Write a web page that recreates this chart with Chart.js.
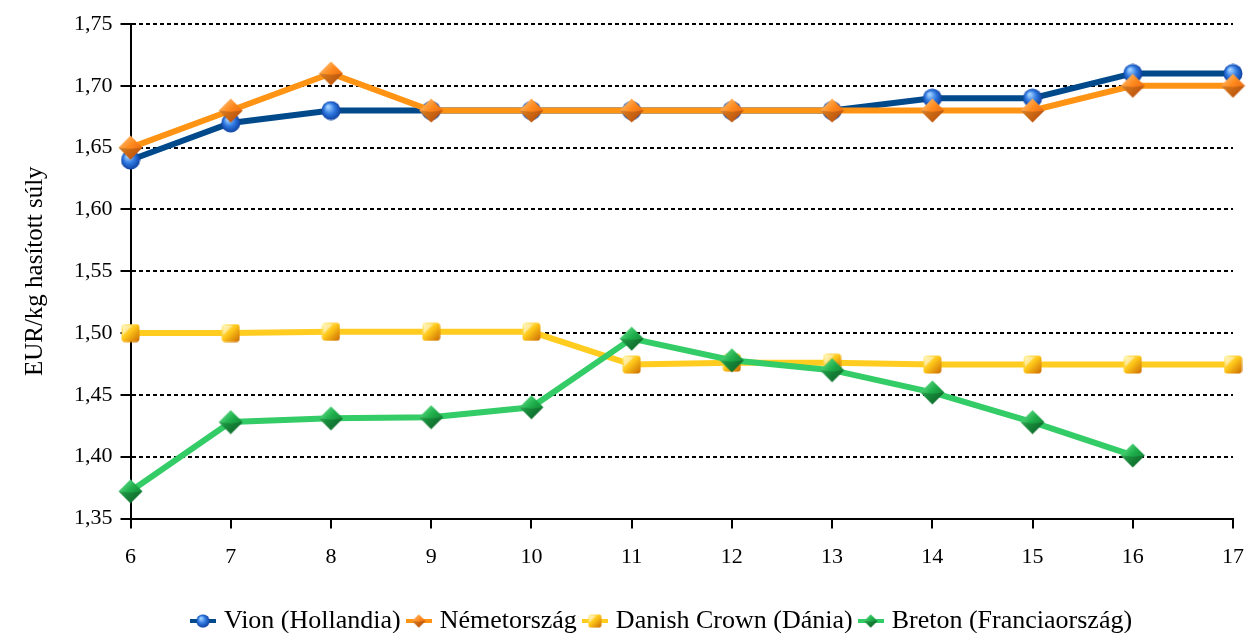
<!DOCTYPE html>
<html>
<head>
<meta charset="utf-8">
<script src="https://cdn.jsdelivr.net/npm/chart.js@4/dist/chart.umd.min.js"></script>
<style>
  html, body { margin: 0; padding: 0; background: #fff; }
  #wrap { width: 1249px; height: 633px; }
</style>
</head>
<body>
<div id="wrap"><canvas id="chart"></canvas></div>
<script>
// Adatok
const weeks = ['6', '7', '8', '9', '10', '11', '12', '13', '14', '15', '16', '17'];
const vion = [1.64, 1.67, 1.68, 1.68, 1.68, 1.68, 1.68, 1.68, 1.69, 1.69, 1.71, 1.71];
const nemetorszag = [1.65, 1.68, 1.71, 1.68, 1.68, 1.68, 1.68, 1.68, 1.68, 1.68, 1.70, 1.70];
const danishCrown = [1.500, 1.500, 1.501, 1.501, 1.501, 1.4745, 1.476, 1.476, 1.4745, 1.4745, 1.4745, 1.4745];
const breton = [1.372, 1.428, 1.431, 1.432, 1.440, 1.4955, 1.478, 1.470, 1.452, 1.428, 1.401, null];
const yTicks = ['1,35', '1,40', '1,45', '1,50', '1,55', '1,60', '1,65', '1,70', '1,75'];

Chart.defaults.font.family = "'Liberation Serif', 'Times New Roman', serif";
Chart.defaults.color = '#000';

// Fényes, "3D" jelölők rajzolása
function makeMarker(shape, size, light, mid, dark) {
    const c = document.createElement('canvas');
    c.width = size; c.height = size;
    const ctx = c.getContext('2d');
    const h = size / 2;
    const g = ctx.createLinearGradient(0, 0, size, size);
    g.addColorStop(0, light);
    g.addColorStop(0.45, mid);
    g.addColorStop(1, dark);
    ctx.fillStyle = g;
    ctx.beginPath();
    if (shape === 'circle') {
        const rg = ctx.createRadialGradient(h * 0.7, h * 0.6, 1, h, h, h);
        rg.addColorStop(0, light);
        rg.addColorStop(0.5, mid);
        rg.addColorStop(1, dark);
        ctx.fillStyle = rg;
        ctx.arc(h, h, h - 0.5, 0, Math.PI * 2);
    } else if (shape === 'diamond') {
        ctx.moveTo(h, 0.5);
        ctx.lineTo(size - 0.5, h);
        ctx.lineTo(h, size - 0.5);
        ctx.lineTo(0.5, h);
        ctx.closePath();
    } else {
        const r = size * 0.18;
        ctx.roundRect(0.5, 0.5, size - 1, size - 1, r);
    }
    ctx.fill();
    if (shape === 'diamond') {
        // sötétebb alsó fél a csiszolt hatásért
        ctx.fillStyle = 'rgba(0,0,0,0.18)';
        ctx.beginPath();
        ctx.moveTo(size - 0.5, h);
        ctx.lineTo(h, size - 0.5);
        ctx.lineTo(0.5, h);
        ctx.lineTo(h, h * 1.1);
        ctx.closePath();
        ctx.fill();
    }
    if (shape === 'square') {
        ctx.fillStyle = 'rgba(255,255,255,0.45)';
        ctx.beginPath();
        ctx.moveTo(2, 2);
        ctx.lineTo(size * 0.6, 2);
        ctx.lineTo(2, size * 0.6);
        ctx.closePath();
        ctx.fill();
    }
    return c;
}

function legendIcon(marker, lineColor) {
    const c = document.createElement('canvas');
    c.width = 26; c.height = 16;
    const ctx = c.getContext('2d');
    ctx.strokeStyle = lineColor;
    ctx.lineWidth = 4;
    ctx.beginPath();
    ctx.moveTo(0, 8);
    ctx.lineTo(26, 8);
    ctx.stroke();
    const s = 14;
    ctx.drawImage(marker, 13 - s / 2, 8 - s / 2, s, s);
    return c;
}

const mVion = makeMarker('circle', 20, '#9fd0ff', '#2f78e0', '#0b3d9c');
const mNemet = makeMarker('diamond', 25, '#ffd090', '#ff8a1e', '#d9540a');
const mDanish = makeMarker('square', 19, '#fffbb0', '#ffc81a', '#c86400');
const mBreton = makeMarker('diamond', 25, '#7cf0a0', '#20b04c', '#0c6a2a');

const colVion = '#00498a';
const colNemet = '#ff9414';
const colDanish = '#ffcc1f';
const colBreton = '#33cc66';

function series(label, data, color, marker) {
    return {
        label: label,
        data: data,
        borderColor: color,
        backgroundColor: color,
        borderWidth: 6,
        pointStyle: marker,
        legendIcon: legendIcon(marker, color),
        pointRadius: 10,
        pointHoverRadius: 10,
        tension: 0,
        spanGaps: false
    };
}

// A sorrend fordított, hogy a rajzolási rend egyezzen (Vion legalul)
const datasets = [
    series('Breton (Franciaország)', breton, colBreton, mBreton),
    series('Danish Crown (Dánia)', danishCrown, colDanish, mDanish),
    series('Németország', nemetorszag, colNemet, mNemet),
    series('Vion (Hollandia)', vion, colVion, mVion)
];

// A jelmagyarázat a rajzterület közepéhez igazodik, nem a vászonhoz
const legendShift = {
    id: 'legendShift',
    afterLayout(chart) {
        if (chart.legend) {
            chart.legend.left += 31;
            chart.legend.right += 31;
        }
    }
};

new Chart(document.getElementById('chart'), {
    type: 'line',
    data: { labels: weeks, datasets: datasets },
    plugins: [legendShift],
    options: {
        responsive: true,
        maintainAspectRatio: false,
        animation: false,
        layout: { padding: { top: 24, right: 0, left: 16, bottom: -11 } },
        plugins: {
            tooltip: { enabled: false },
            legend: {
                position: 'bottom',
                reverse: true,
                labels: {
                    usePointStyle: true,
                    pointStyleWidth: 16,
                    padding: 10,
                    font: { size: 26 },
                    color: '#000',
                    generateLabels: function(chart) {
                        return chart.data.datasets.map((ds, i) => ({
                            text: ds.label,
                            pointStyle: ds.legendIcon,
                            fillStyle: ds.borderColor,
                            strokeStyle: ds.borderColor,
                            lineWidth: 0,
                            hidden: false,
                            datasetIndex: i
                        }));
                    }
                }
            }
        },
        scales: {
            x: {
                type: 'category',
                offset: false,
                grid: {
                    display: true,
                    drawOnChartArea: false,
                    drawTicks: true,
                    tickLength: 10,
                    color: '#000',
                    lineWidth: 2
                },
                border: { display: true, color: '#000', width: 2 },
                ticks: { font: { size: 22, lineHeight: 2.25 }, color: '#000', padding: 4, maxRotation: 0 },
                afterFit: function(scale) { scale.height += 12; }
            },
            y: {
                min: 1.35,
                max: 1.75,
                grid: {
                    color: '#000',
                    lineWidth: 2,
                    drawTicks: true,
                    tickLength: 10,
                    tickBorderDash: [10, 0]
                },
                border: { display: true, color: '#000', width: 2, dash: [4, 3] },
                ticks: {
                    stepSize: 0.05,
                    font: { size: 22 },
                    color: '#000',
                    padding: 8,
                    callback: function(value) {
                        const idx = Math.round((value - 1.35) / 0.05);
                        return yTicks[idx];
                    }
                },
                title: {
                    display: true,
                    text: 'EUR/kg hasított súly',
                    font: { size: 25 },
                    color: '#000',
                    padding: { top: 4, bottom: 16 }
                }
            }
        }
    }
});
</script>
</body>
</html>
